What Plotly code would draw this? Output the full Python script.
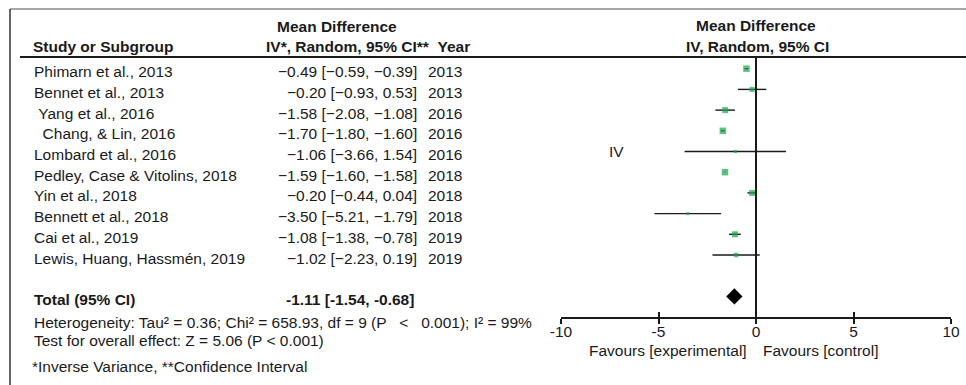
import plotly.graph_objects as go

# ---------------- data ----------------
studies = ["Phimarn et al., 2013", "Bennet et al., 2013", "\u00a0Yang et al., 2016",
           "\u00a0\u00a0Chang, & Lin, 2016", "Lombard et al., 2016",
           "Pedley, Case & Vitolins, 2018", "Yin et al., 2018", "Bennett et al., 2018",
           "Cai et al., 2019", "Lewis, Huang, Hassmén, 2019"]
md = [-0.49, -0.20, -1.58, -1.70, -1.06, -1.59, -0.20, -3.50, -1.08, -1.02]
ci_low = [-0.59, -0.93, -2.08, -1.80, -3.66, -1.60, -0.44, -5.21, -1.38, -2.23]
ci_high = [-0.39, 0.53, -1.08, -1.60, 1.54, -1.58, 0.04, -1.79, -0.78, 0.19]
years = [2013, 2013, 2016, 2016, 2016, 2018, 2018, 2018, 2019, 2019]
total_md = -1.11
total_low = -1.54
total_high = -0.68
tick_vals = [-10, -5, 0, 5, 10]
tick_text = ["-10", "-5", "0", "5", "10"]

# ---------------- style ----------------
marker_px = [6.5, 5, 6, 6.5, 3, 6.5, 6, 3, 6, 4.5]
GREEN = "#1aa847"
INK = "#1a1a1a"
FONT = "Liberation Sans, Arial, sans-serif"
FS = 15.5

W, H = 966, 385
ML, MR, MT, MB = 561, 15, 57, 68
PW, PH = W - ML - MR, H - MT - MB
row_px = 20.7
y_top = -11.7 / row_px
y_bot = y_top + PH / row_px

rows = list(range(len(studies)))
total_row = len(studies) + 1
unit_px = PW / 20.0


def px_x(p):
    return (p - ML) / PW


def px_y(p):
    return (H - MB - p) / PH


def px_data_x(p):
    return (p - (ML + PW / 2)) / unit_px


def fmt(v):
    return f"{v:.2f}".replace("-", "\u2212")


fig = go.Figure()

fig.add_trace(go.Scatter(
    x=md, y=rows, mode="markers",
    marker=dict(symbol="square", size=marker_px, color=GREEN, line=dict(width=0)),
    error_x=dict(type="data", symmetric=False,
                 array=[h - m for h, m in zip(ci_high, md)],
                 arrayminus=[m - l for m, l in zip(md, ci_low)],
                 width=0, thickness=1.4, color=INK),
    hoverinfo="skip",
))

fig.add_trace(go.Scatter(
    x=[total_md], y=[total_row], mode="markers",
    marker=dict(symbol="diamond", size=12.5, color="black", line=dict(width=0)),
    hoverinfo="skip",
))

# invisible trace to create the overlay axis used for the upper tick marks
fig.add_trace(go.Scatter(x=[0], y=[-100], xaxis="x2", mode="markers",
                         marker=dict(opacity=0), hoverinfo="skip"))

ann = []


def txt(text, x, y, xanchor="left", bold=False, xref="paper", yref="paper", yshift=0, size=FS):
    ann.append(dict(text=f"<b>{text}</b>" if bold else text, x=x, y=y, xref=xref, yref=yref,
                    xanchor=xanchor, yanchor="middle", showarrow=False, yshift=yshift,
                    borderpad=0, borderwidth=0,
                    font=dict(family=FONT, size=size, color=INK)))


# left headers
txt("Mean Difference", px_x(337), px_y(27), xanchor="center", bold=True)
txt("Study or Subgroup", px_x(33), px_y(47), bold=True)
txt("IV*, Random, 95% CI**\u00a0\u00a0Year", px_x(470), px_y(47), xanchor="right", bold=True)
# right headers
txt("Mean Difference", px_x(755.5), px_y(26), xanchor="center", bold=True)
txt("IV, Random, 95% CI", px_x(757.5), px_y(46.5), xanchor="center", bold=True)

# rows
for i, name in enumerate(studies):
    txt(name, px_x(34), rows[i], yref="y", yshift=-3)
    txt(f"{fmt(md[i])} [{fmt(ci_low[i])}, {fmt(ci_high[i])}]", px_x(416.5), rows[i],
        xanchor="right", yref="y", yshift=-3)
    txt(str(years[i]), px_x(428), rows[i], yref="y", yshift=-3)

# total
txt("Total (95% CI)", px_x(34), total_row, yref="y", yshift=-3, bold=True)
txt(f"{total_md:.2f} [{total_low:.2f}, {total_high:.2f}]", px_x(414), total_row,
    xanchor="right", yref="y", yshift=-3, bold=True)
txt("Heterogeneity: Tau² = 0.36; Chi² = 658.93, df = 9 (P \u00a0\u00a0<\u00a0\u00a0 0.001); I² = 99%",
    px_x(34), px_y(322))
txt("Test for overall effect: Z = 5.06 (P < 0.001)", px_x(34), px_y(340))
txt("*Inverse Variance, **Confidence Interval", px_x(32), px_y(366))

# right panel texts
txt("IV", px_data_x(616), rows[4], xanchor="center", xref="x", yref="y")
txt("Favours [experimental]", px_data_x(668), px_y(350), xanchor="center", xref="x")
txt("Favours [control]", px_data_x(820), px_y(350), xanchor="center", xref="x")

shapes = [
    dict(type="line", xref="paper", yref="paper", x0=px_x(10), x1=px_x(W), y0=px_y(9), y1=px_y(9),
         line=dict(color="#8a8a8a", width=1.5)),
    dict(type="line", xref="paper", yref="paper", x0=px_x(10), x1=px_x(10), y0=px_y(9), y1=px_y(H),
         line=dict(color="#333333", width=1.5)),
    dict(type="line", xref="paper", yref="paper", x0=px_x(20), x1=px_x(W), y0=1, y1=1,
         line=dict(color=INK, width=2)),
]

axis_common = dict(range=[-10, 10], tickvals=tick_vals, ticktext=tick_text, automargin=False,
                   ticklen=5, tickwidth=1.5, tickcolor=INK, showgrid=False, fixedrange=True)

fig.update_layout(
    width=W, height=H,
    margin=dict(l=ML, r=MR, t=MT, b=MB, pad=0, autoexpand=False),
    paper_bgcolor="white", plot_bgcolor="white",
    showlegend=False,
    font=dict(family=FONT, size=FS, color=INK),
    xaxis=dict(**axis_common, ticks="outside", showline=True, linecolor=INK, linewidth=1.5,
               zeroline=True, zerolinecolor=INK, zerolinewidth=1.5, ticklabelstandoff=-5,
               tickfont=dict(family=FONT, size=FS, color=INK)),
    xaxis2=dict(**axis_common, ticks="inside", overlaying="x", anchor="y", side="bottom",
                showticklabels=False, showline=False, zeroline=False),
    yaxis=dict(range=[y_bot, y_top], visible=False, fixedrange=True, automargin=False),
    annotations=ann,
    shapes=shapes,
)

fig.write_html("out.html", config={"displayModeBar": False},
               post_script="document.body.style.margin='0';")
